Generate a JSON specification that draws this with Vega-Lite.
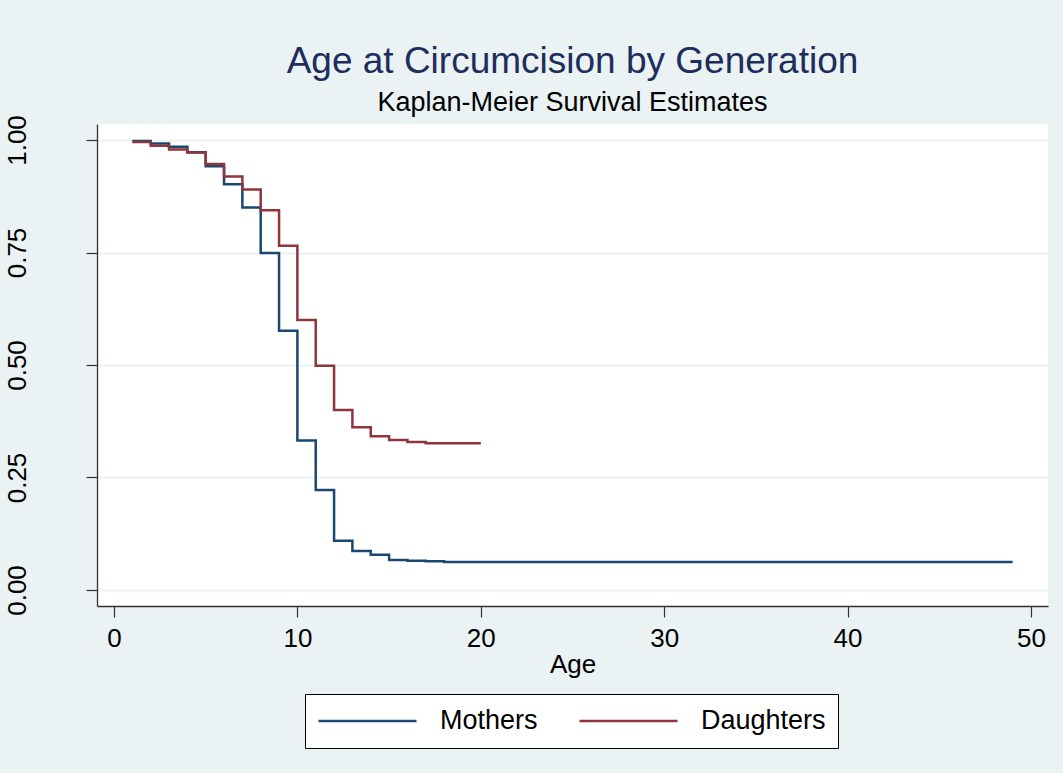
{
  "$schema": "https://vega.github.io/schema/vega-lite/v6.json",
  "autosize": {"type": "none"},
  "width": 951,
  "height": 482,
  "padding": {"left": 97, "top": 124, "right": 15, "bottom": 167},
  "background": "#EAF2F3",
  "title": {
    "text": "Age at Circumcision by Generation",
    "subtitle": "Kaplan-Meier Survival Estimates",
    "anchor": "middle",
    "font": "Liberation Sans",
    "fontSize": 37,
    "fontWeight": "normal",
    "color": "#1E2D5B",
    "subtitleFont": "Liberation Sans",
    "subtitleFontSize": 27,
    "subtitleColor": "#000000",
    "subtitlePadding": 9,
    "offset": -2
  },
  "data": {
    "values": [
      {"age": 1, "surv": 0.998, "group": "Mothers"},
      {"age": 2, "surv": 0.9925, "group": "Mothers"},
      {"age": 3, "surv": 0.985, "group": "Mothers"},
      {"age": 4, "surv": 0.9726, "group": "Mothers"},
      {"age": 5, "surv": 0.9415, "group": "Mothers"},
      {"age": 6, "surv": 0.9015, "group": "Mothers"},
      {"age": 7, "surv": 0.85, "group": "Mothers"},
      {"age": 8, "surv": 0.749, "group": "Mothers"},
      {"age": 9, "surv": 0.576, "group": "Mothers"},
      {"age": 10, "surv": 0.332, "group": "Mothers"},
      {"age": 11, "surv": 0.222, "group": "Mothers"},
      {"age": 12, "surv": 0.1096, "group": "Mothers"},
      {"age": 13, "surv": 0.0867, "group": "Mothers"},
      {"age": 14, "surv": 0.0785, "group": "Mothers"},
      {"age": 15, "surv": 0.0667, "group": "Mothers"},
      {"age": 16, "surv": 0.0652, "group": "Mothers"},
      {"age": 17, "surv": 0.0637, "group": "Mothers"},
      {"age": 18, "surv": 0.0622, "group": "Mothers"},
      {"age": 49, "surv": 0.0622, "group": "Mothers"},
      {"age": 1, "surv": 0.9955, "group": "Daughters"},
      {"age": 2, "surv": 0.987, "group": "Daughters"},
      {"age": 3, "surv": 0.979, "group": "Daughters"},
      {"age": 4, "surv": 0.972, "group": "Daughters"},
      {"age": 5, "surv": 0.9467, "group": "Daughters"},
      {"age": 6, "surv": 0.919, "group": "Daughters"},
      {"age": 7, "surv": 0.89, "group": "Daughters"},
      {"age": 8, "surv": 0.844, "group": "Daughters"},
      {"age": 9, "surv": 0.765, "group": "Daughters"},
      {"age": 10, "surv": 0.6, "group": "Daughters"},
      {"age": 11, "surv": 0.4985, "group": "Daughters"},
      {"age": 12, "surv": 0.4, "group": "Daughters"},
      {"age": 13, "surv": 0.3615, "group": "Daughters"},
      {"age": 14, "surv": 0.3415, "group": "Daughters"},
      {"age": 15, "surv": 0.3333, "group": "Daughters"},
      {"age": 16, "surv": 0.3289, "group": "Daughters"},
      {"age": 17, "surv": 0.326, "group": "Daughters"},
      {"age": 20, "surv": 0.326, "group": "Daughters"}
    ]
  },
  "mark": {"type": "line", "interpolate": "step-after", "strokeWidth": 2.5},
  "encoding": {
    "x": {
      "field": "age",
      "type": "quantitative",
      "title": "Age",
      "scale": {"domain": [-0.927, 50.93], "nice": false, "zero": false},
      "axis": {
        "values": [0, 10, 20, 30, 40, 50],
        "grid": false,
        "domainColor": "#333333",
        "domainWidth": 1.3,
        "tickColor": "#333333",
        "tickWidth": 1.2,
        "tickSize": 11,
        "labelFont": "Liberation Sans",
        "labelFontSize": 26,
        "labelColor": "#000000",
        "labelPadding": 8,
        "labelFlush": false,
        "titleFont": "Liberation Sans",
        "titleFontSize": 26,
        "titleFontWeight": "normal",
        "titleColor": "#000000",
        "titlePadding": 0
      }
    },
    "y": {
      "field": "surv",
      "type": "quantitative",
      "title": null,
      "scale": {"domain": [-0.03556, 1.03556], "nice": false, "zero": false},
      "axis": {
        "values": [0, 0.25, 0.5, 0.75, 1],
        "format": ".2f",
        "grid": true,
        "gridColor": "#EAF2F3",
        "gridWidth": 2,
        "domainColor": "#333333",
        "domainWidth": 1.3,
        "tickColor": "#333333",
        "tickWidth": 1.2,
        "tickSize": 11,
        "labelFont": "Liberation Sans",
        "labelFontSize": 26,
        "labelColor": "#000000",
        "labelAngle": -90,
        "labelAlign": "center",
        "labelBaseline": "alphabetic",
        "labelPadding": 61,
        "labelFlush": false
      }
    },
    "color": {
      "field": "group",
      "type": "nominal",
      "sort": ["Mothers", "Daughters"],
      "scale": {"domain": ["Mothers", "Daughters"], "range": ["#1A476F", "#90353B"]},
      "legend": {
        "title": null,
        "orient": "none",
        "legendX": 208,
        "legendY": 570,
        "direction": "horizontal",
        "symbolType": "stroke",
        "symbolSize": 9604,
        "symbolStrokeWidth": 2.5,
        "clipHeight": 30,
        "labelOffset": 22,
        "columnPadding": 40,
        "padding": 12,
        "labelFont": "Liberation Sans",
        "labelFontSize": 27,
        "labelColor": "#000000",
        "strokeColor": "#000000",
        "fillColor": "#FFFFFF",
        "cornerRadius": 0
      }
    }
  },
  "config": {
    "view": {"fill": "#FFFFFF", "stroke": null}
  }
}
